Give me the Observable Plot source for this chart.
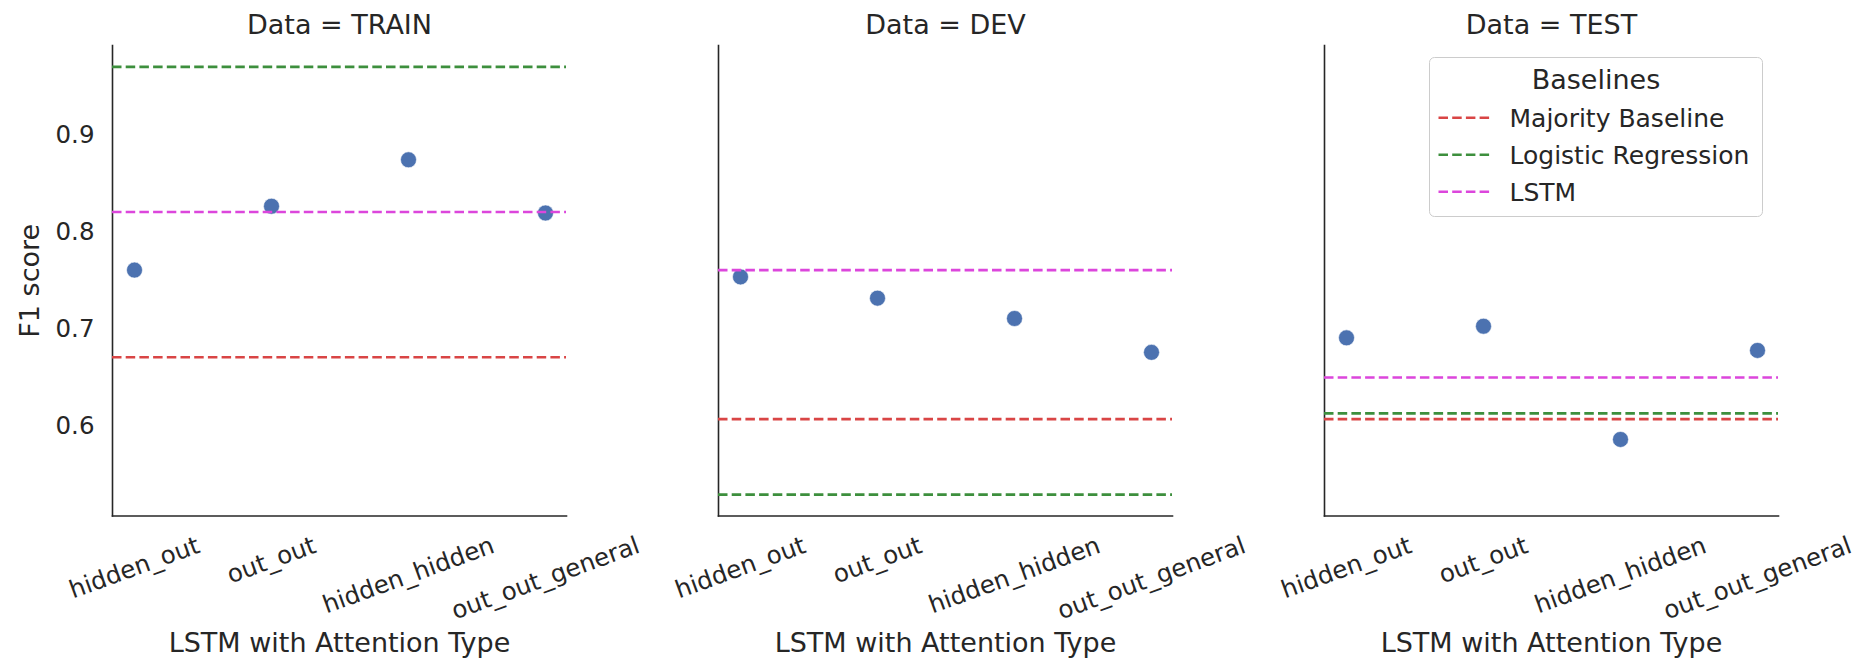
<!DOCTYPE html>
<html>
<head>
<meta charset="utf-8">
<script src="https://cdn.jsdelivr.net/npm/d3@7"></script>
<script src="https://cdn.jsdelivr.net/npm/@observablehq/plot@0.6"></script>
<style>
  html, body { margin: 0; padding: 0; background: #fff; overflow: hidden; }
  #wrap { position: relative; width: 1856px; height: 659px; }
  #legend { position: absolute; left: 1428.5px; top: 56.5px; }
</style>
</head>
<body>
<div id="wrap"></div>
<script>
// ---------- data ----------
const datasets = ["TRAIN", "DEV", "TEST"];
const attentionTypes = ["hidden_out", "out_out", "hidden_hidden", "out_out_general"];
const f1Train = [0.761, 0.827, 0.875, 0.820];
const f1Dev   = [0.754, 0.732, 0.711, 0.676];
const f1Test  = [0.691, 0.703, 0.586, 0.678];

const baselineNames = ["Majority Baseline", "Logistic Regression", "LSTM"];
// one value per dataset (TRAIN, DEV, TEST)
const majorityBaseline   = [0.671, 0.607, 0.607];
const logisticRegression = [0.971, 0.529, 0.613];
const lstmBaseline       = [0.821, 0.761, 0.650];
const baselineColors = ["#d94545", "#3d8f3d", "#dc46dc"];

const yTicks = [0.6, 0.7, 0.8, 0.9];

// ---------- tables ----------
const points = [];
[f1Train, f1Dev, f1Test].forEach((vals, i) =>
  vals.forEach((v, j) => points.push({data: datasets[i], type: attentionTypes[j], f1: v})));
const baselines = [];
[majorityBaseline, logisticRegression, lstmBaseline].forEach((vals, k) =>
  vals.forEach((v, i) => baselines.push({data: datasets[i], baseline: baselineNames[k], f1: v})));

const allVals = [...points.map(d => d.f1), ...baselines.map(d => d.f1)];
const lo = d3.min(allVals), hi = d3.max(allVals), pad = 0.05 * (hi - lo);

// ---------- layout / style ----------
const FONT = "DejaVu Sans";
const INK = "#262626";
const W = 1856, H = 659;
const mL = 111, mR = 78, mT = 45, mB = 143.5;
const tickFont = 24.5, labelFont = 27;
const dash = "9.5,4.2";
const lineW = 2.6;

// rotated tick labels: centred on tick, rotated bbox top just under the axis
const ctx = document.createElement("canvas").getContext("2d");
ctx.font = `${tickFont}px "${FONT}"`;
const rot = 20, sn = Math.sin(rot * Math.PI / 180), cs = Math.cos(rot * Math.PI / 180);
const tickLabelMarks = attentionTypes.map(t => {
  const w = ctx.measureText(t).width;
  const boxH = w * sn + tickFont * cs;
  return Plot.text(datasets.map(d => ({data: d, type: t})), {
    fx: "data", x: "type", text: "type",
    frameAnchor: "bottom", dy: 17 + boxH / 2,
    rotate: -rot, textAnchor: "middle", lineAnchor: "middle",
    fontSize: tickFont, fill: INK
  });
});

const chart = Plot.plot({
  width: W, height: H,
  marginLeft: mL, marginRight: mR, marginTop: mT, marginBottom: mB,
  style: {fontFamily: FONT, color: INK, background: "white", overflow: "visible"},
  fx: {domain: datasets, paddingInner: 0.251, paddingOuter: 0, axis: null},
  x: {type: "point", domain: attentionTypes, padding: 0.15, axis: null},
  y: {domain: [lo - pad, hi + pad]},
  marks: [
    Plot.frame({anchor: "left", stroke: INK, strokeWidth: 1.6}),
    Plot.frame({anchor: "bottom", stroke: INK, strokeWidth: 1.6}),
    Plot.axisY(yTicks, {tickSize: 0, tickPadding: 18, fontSize: tickFont, label: null, fill: INK,
      tickFormat: d3.format(".1f")}),
    Plot.dot(points, {fx: "data", x: "type", y: "f1", r: 8, fill: "#4c72b0", stroke: "white", strokeWidth: 0.6}),
    Plot.ruleY(baselines, {
      fx: "data", y: "f1",
      stroke: d => baselineColors[baselineNames.indexOf(d.baseline)],
      strokeWidth: lineW, strokeDasharray: dash
    }),
    ...tickLabelMarks,
    Plot.text(datasets, {fx: d => d, text: d => `Data = ${d}`, frameAnchor: "top", dy: -11.6,
      textAnchor: "middle", lineAnchor: "bottom", fontSize: labelFont, fill: INK}),
    Plot.text(datasets, {fx: d => d, text: () => "LSTM with Attention Type", frameAnchor: "bottom", dy: 135.5,
      textAnchor: "middle", lineAnchor: "bottom", fontSize: labelFont, fill: INK}),
    Plot.text([datasets[0]], {fx: d => d, text: () => "F1 score", frameAnchor: "left", dx: -93,
      rotate: -90, textAnchor: "middle", lineAnchor: "top", fontSize: labelFont, fill: INK})
  ]
});
document.getElementById("wrap").appendChild(chart);

// ---------- legend (inside TEST panel) ----------
const leg = d3.select("#wrap").append("svg").attr("id", "legend")
  .attr("width", 336).attr("height", 162)
  .style("font-family", FONT);
leg.append("rect").attr("x", 0.5).attr("y", 0.5).attr("width", 333).attr("height", 159)
  .attr("rx", 5).attr("fill", "white").attr("fill-opacity", 0.8)
  .attr("stroke", "#cccccc").attr("stroke-width", 1);
leg.append("text").attr("x", 167).attr("y", 31.8).attr("text-anchor", "middle")
  .attr("font-size", labelFont).attr("fill", INK).text("Baselines");
baselineNames.forEach((name, i) => {
  const base = 69.5 + 37 * i;
  leg.append("line").attr("x1", 9.5).attr("x2", 61.5).attr("y1", base - 8.8).attr("y2", base - 8.8)
    .attr("stroke", baselineColors[i]).attr("stroke-width", lineW).attr("stroke-dasharray", dash);
  leg.append("text").attr("x", 80.5).attr("y", base).attr("font-size", 25).attr("fill", INK).text(name);
});
</script>
</body>
</html>
